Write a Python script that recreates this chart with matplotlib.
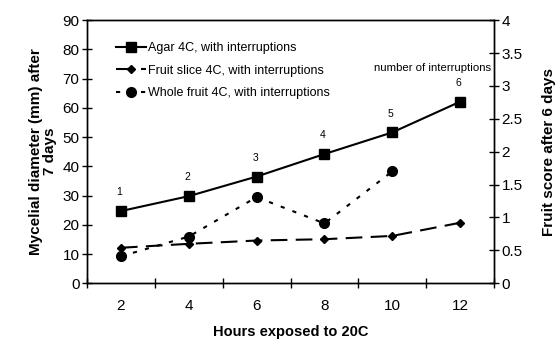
import matplotlib
matplotlib.use("Agg")
import matplotlib.pyplot as plt
import numpy as np

hours = ["2", "4", "6", "8", "10", "12"]
agar = [24.7, 29.8, 36.5, 44.2, 51.6, 62.1]
fruit_slice = [0.54, 0.60, 0.65, 0.67, 0.72, 0.92]
whole_fruit = [0.41, 0.71, 1.31, 0.91, 1.70]
interruptions = ["1", "2", "3", "4", "5", "6"]

plt.rcParams['font.family'] = ['Liberation Sans', 'DejaVu Sans']

fig = plt.figure(figsize=(5.56, 3.40), dpi=100)
ax = fig.add_axes([0.1565, 0.1668, 0.732, 0.774])
ax2 = ax.twinx()

x = np.arange(len(hours))

la, = ax.plot(x, agar, color='black', lw=1.5, marker='s', ms=7, label='Agar 4C, with interruptions')
ls, = ax2.plot(x, fruit_slice, color='black', lw=1.5, marker='D', ms=4.5,
               dashes=(8, 4), label='Fruit slice 4C, with interruptions')
lw_, = ax2.plot(x[:len(whole_fruit)], whole_fruit, color='black', lw=1.5, marker='o', ms=7,
                dashes=(2, 4), label='Whole fruit 4C, with interruptions')

for xi, yi, t in zip(x, agar, interruptions):
    ax.annotate(t, (xi, yi), xytext=(-1, 10), textcoords='offset points',
                ha='center', va='bottom', fontsize=7.5)
ax.text(4.6, 73.5, 'number of interruptions', ha='center', va='center', fontsize=8.2)

ax.set_xlim(-0.5, 5.5)
ax.set_ylim(0, 90)
ax.set_yticks(np.arange(0, 91, 10))
ax2.set_ylim(0, 4)
ax2.set_yticks(np.arange(0, 4.01, 0.5))
ax2.set_yticklabels(['0', '0.5', '1', '1.5', '2', '2.5', '3', '3.5', '4'])

ax.set_xticks(np.arange(-0.5, 5.6, 1))
ax.set_xticklabels([])
ax.set_xticks(x, minor=True)
ax.set_xticklabels(hours, minor=True)
ax.tick_params(axis='x', which='major', direction='inout', length=7, width=1)
ax.tick_params(axis='x', which='minor', length=0, labelsize=11, pad=11)
ax.tick_params(axis='y', direction='inout', length=7, width=1, labelsize=11, pad=2)
ax2.tick_params(axis='y', direction='inout', length=7, width=1, labelsize=11, pad=2)

for a in (ax, ax2):
    for s in a.spines.values():
        s.set_color('black')
        s.set_linewidth(1)

ax.set_xlabel('Hours exposed to 20C', fontsize=10.5, fontweight='bold', labelpad=9)
ax.set_ylabel('Mycelial diameter (mm) after\n7 days', fontsize=11, fontweight='bold',
              labelpad=4, linespacing=1.0)
ax2.set_ylabel('Fruit score after 6 days', fontsize=11, fontweight='bold', labelpad=14)

ax.legend(handles=[la, ls, lw_], loc='upper left', bbox_to_anchor=(0.06, 0.935),
          frameon=False, fontsize=9, handlelength=2.4, handletextpad=0.15,
          labelspacing=0.85, borderaxespad=0)

fig.savefig('out.png', dpi=100)
